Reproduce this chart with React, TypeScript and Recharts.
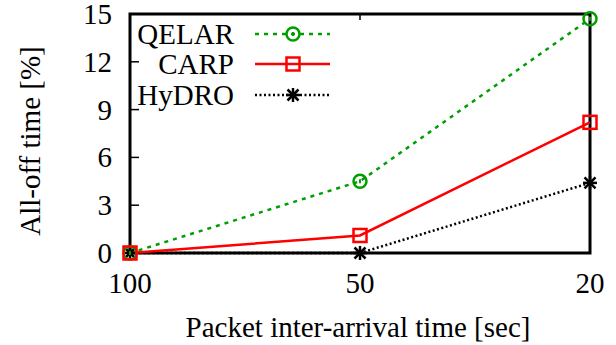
import { Line, LineChart, XAxis, YAxis } from 'recharts';

const categories = ['100', '50', '20'];
const qelar = [0, 4.5, 14.7];
const carp = [0, 1.1, 8.2];
const hydro = [0, 0, 4.4];
const yTicks = [0, 3, 6, 9, 12, 15];

const data = categories.map((c, i) => ({ name: c, qelar: qelar[i], carp: carp[i], hydro: hydro[i] }));

const FONT = '"Liberation Serif", "DejaVu Serif", serif';
const FS = 29;
const GREEN = '#009e00';
const RED = '#ff0000';

const Circle = ({ cx, cy }: any) => (
  <g>
    <circle cx={cx} cy={cy} r={6.5} fill="none" stroke={GREEN} strokeWidth={2.5} />
    <line x1={cx} y1={cy - 2} x2={cx} y2={cy + 2} stroke={GREEN} strokeWidth={2} />
  </g>
);

const Square = ({ cx, cy }: any) => (
  <rect x={cx - 6.5} y={cy - 6.5} width={13} height={13} fill="none" stroke={RED} strokeWidth={2.5} />
);

const Star = ({ cx, cy }: any) => (
  <g stroke="#000" strokeWidth={2.5}>
    <line x1={cx - 7} y1={cy} x2={cx + 7} y2={cy} />
    <line x1={cx} y1={cy - 7} x2={cx} y2={cy + 7} />
    <line x1={cx - 5.5} y1={cy - 5.5} x2={cx + 5.5} y2={cy + 5.5} />
    <line x1={cx - 5.5} y1={cy + 5.5} x2={cx + 5.5} y2={cy - 5.5} />
  </g>
);

const LeftTick = ({ x, y, payload }: any) => (
  <g>
    <text x={x} y={y} dy={10} textAnchor="end" fontFamily={FONT} fontSize={FS} fill="#000">
      {payload.value}
    </text>
    {payload.value !== 0 && payload.value !== 15 && (
      <line x1={x + 18} y1={y} x2={x + 27} y2={y} stroke="#000" strokeWidth={1.5} />
    )}
  </g>
);

const RightTick = ({ x, y, payload }: any) =>
  payload.value !== 0 && payload.value !== 15 ? (
    <line x1={x} y1={y} x2={x - 9} y2={y} stroke="#000" strokeWidth={1.5} />
  ) : null;

const BottomTick = ({ x, y, payload }: any) => (
  <text x={x} y={y} dy={40} textAnchor="middle" fontFamily={FONT} fontSize={FS} fill="#000">
    {payload.value}
  </text>
);

const legendRows = [
  { label: 'QELAR', color: GREEN, dash: '4 5', Marker: Circle, y: 34 },
  { label: 'CARP', color: RED, dash: undefined, Marker: Square, y: 64 },
  { label: 'HyDRO', color: '#000', dash: '2 2.5', Marker: Star, y: 95 },
];

export default function App() {
  return (
    <div style={{ position: 'absolute', left: 0, top: 0, width: 616, height: 345, background: '#fff' }}>
      <LineChart width={616} height={345} data={data} margin={{ top: 14, right: 0, left: 0, bottom: 0 }}>
        <XAxis
          dataKey="name"
          height={92}
          padding={{ left: 0, right: 0 }}
          axisLine={false}
          tickLine={false}
          tickSize={0}
          tickMargin={0}
          tick={<BottomTick />}
          interval={0}
        />
        <YAxis
          yAxisId="l"
          width={130}
          domain={[0, 15]}
          ticks={yTicks}
          axisLine={false}
          tickLine={false}
          tickSize={0}
          tickMargin={18}
          tick={<LeftTick />}
          interval={0}
        />
        <YAxis
          yAxisId="r"
          orientation="right"
          width={26}
          domain={[0, 15]}
          ticks={yTicks}
          axisLine={false}
          tickLine={false}
          tickSize={0}
          tickMargin={0}
          tick={<RightTick />}
          interval={0}
        />
        <Line yAxisId="l" dataKey="hydro" stroke="#000" strokeWidth={2.5} strokeDasharray="2 2.5" dot={<Star />} isAnimationActive={false} />
        <Line yAxisId="l" dataKey="qelar" stroke={GREEN} strokeWidth={2.5} strokeDasharray="4 5" dot={<Circle />} isAnimationActive={false} />
        <Line yAxisId="l" dataKey="carp" stroke={RED} strokeWidth={2.5} dot={<Square />} isAnimationActive={false} />
        <rect x={130} y={14} width={460} height={239} fill="none" stroke="#000" strokeWidth={3} />
        <line x1={360} y1={14} x2={360} y2={20} stroke="#000" strokeWidth={1.5} />
        {legendRows.map(({ label, color, dash, Marker, y }) => (
          <g key={label}>
            <text x={234} y={y} dy={10} textAnchor="end" fontFamily={FONT} fontSize={FS} fill="#000">
              {label}
            </text>
            <line x1={255} y1={y} x2={330} y2={y} stroke={color} strokeWidth={2.5} strokeDasharray={dash} />
            <Marker cx={293} cy={y} />
          </g>
        ))}
        <text
          x={30}
          y={141}
          transform="rotate(-90 30 141)"
          textAnchor="middle"
          dy={10}
          fontFamily={FONT}
          fontSize={FS}
          fill="#000"
        >
          All-off time [%]
        </text>
        <text x={358} y={337} textAnchor="middle" fontFamily={FONT} fontSize={FS} fill="#000">
          Packet inter-arrival time [sec]
        </text>
      </LineChart>
    </div>
  );
}
